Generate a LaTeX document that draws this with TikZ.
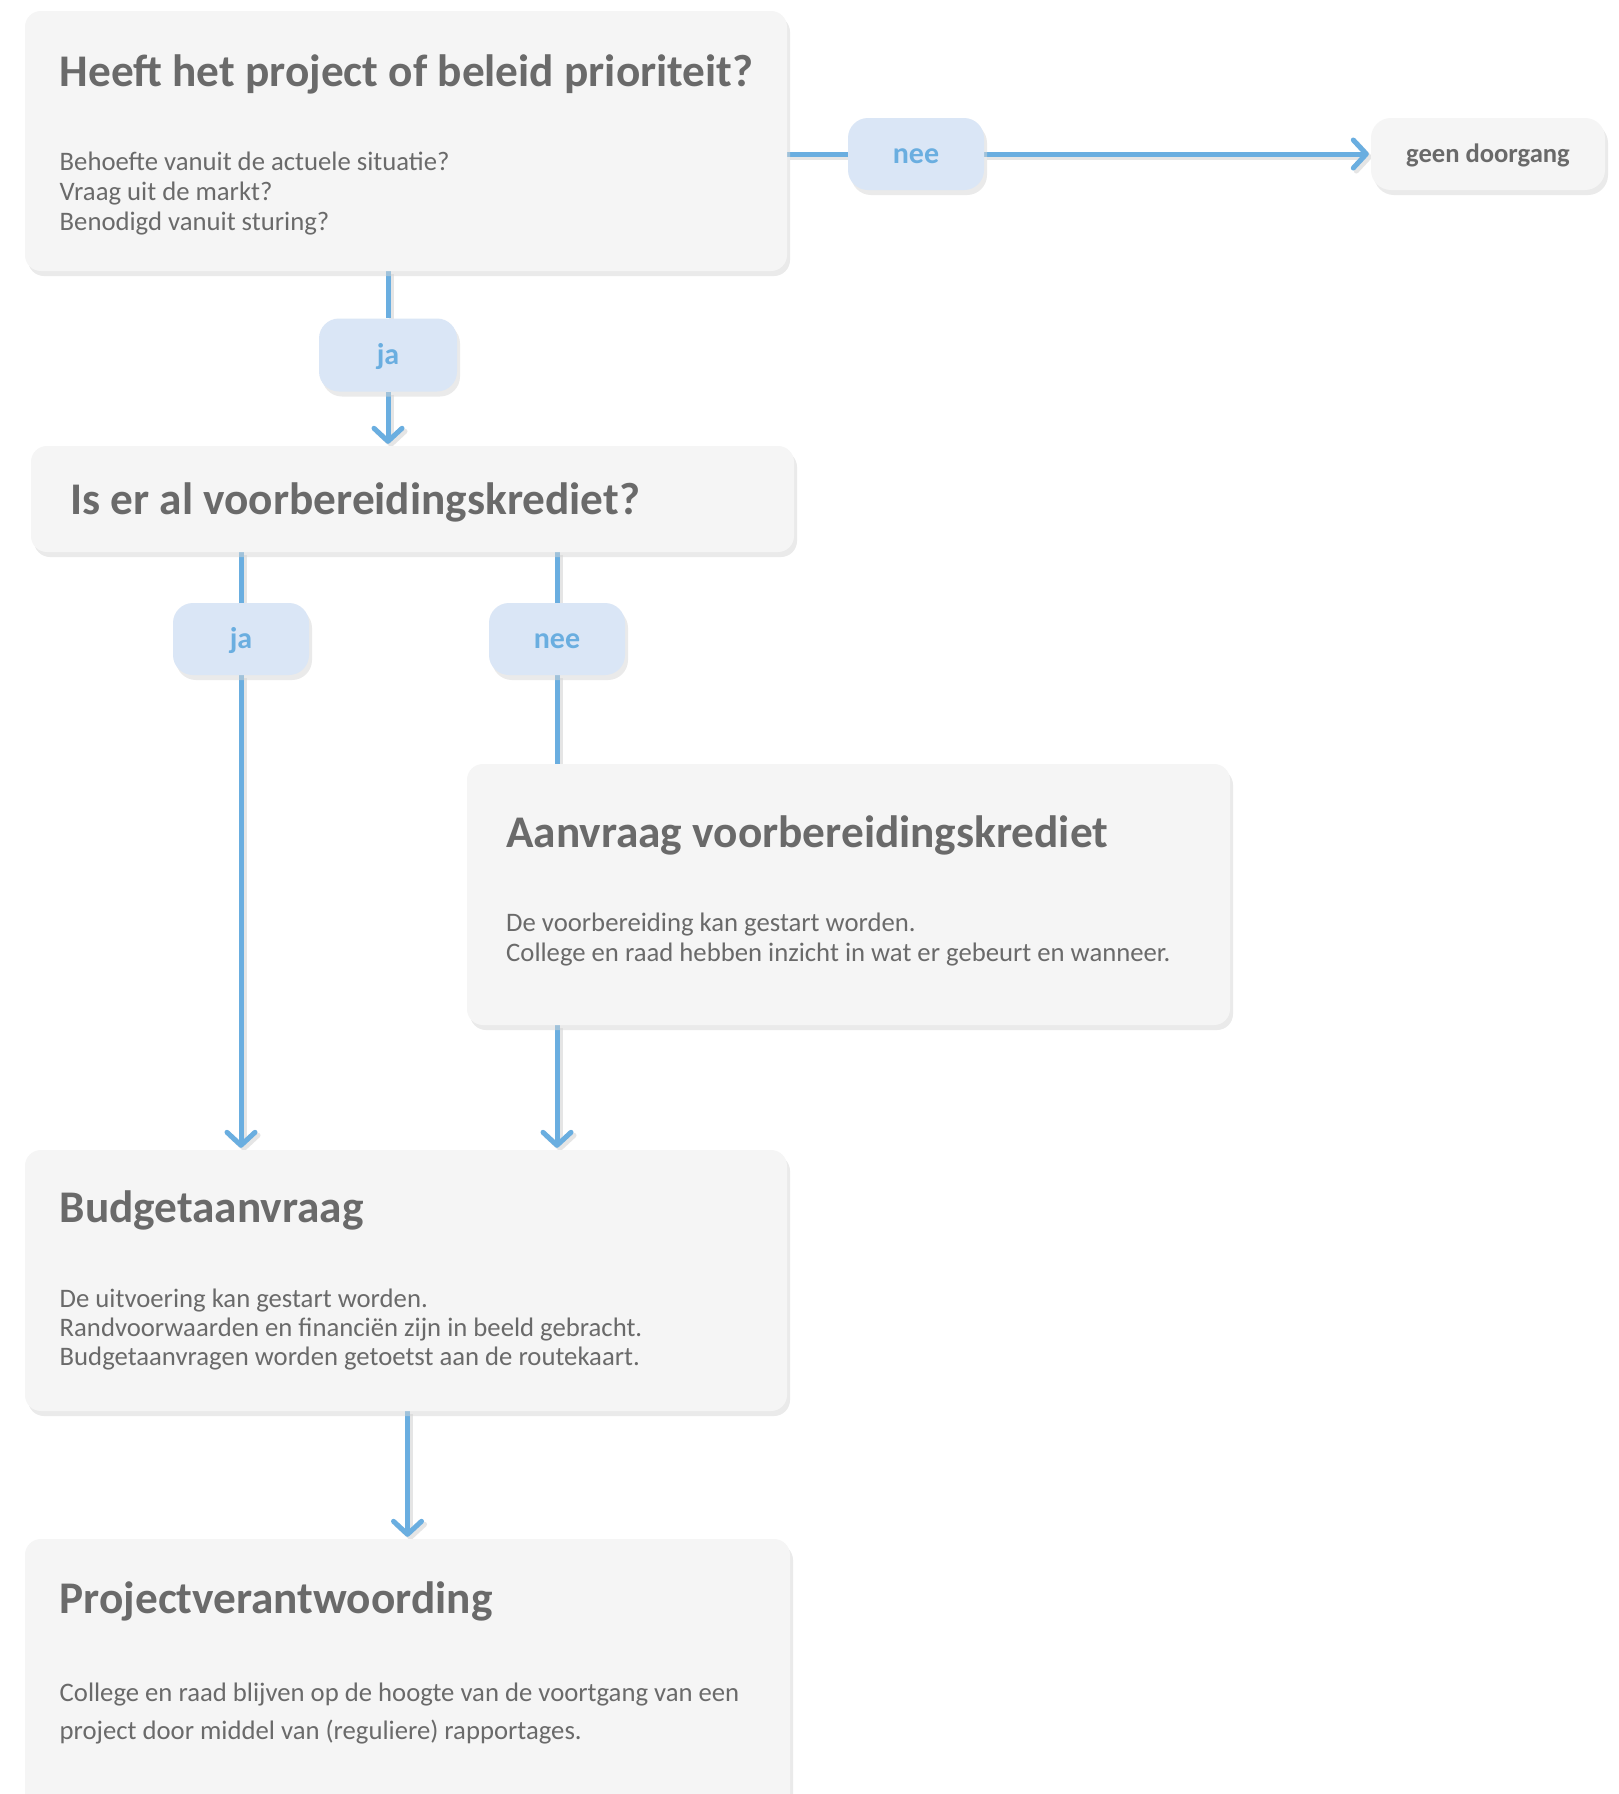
\documentclass[tikz,border=0pt]{standalone}
\usepackage{fontspec}
\setmainfont{Carlito}
\usetikzlibrary{arrows.meta,shadows,calc}
\definecolor{boxfill}{HTML}{F5F5F5}
\definecolor{txt}{HTML}{6A6A6A}
\definecolor{pillfill}{HTML}{DAE6F6}
\definecolor{blueline}{HTML}{6AAEE0}
\pgfdeclarelayer{bg}
\pgfsetlayers{bg,main}
\tikzset{
  box/.style={rectangle, rounded corners=16pt, fill=boxfill, inner sep=0pt,
    drop shadow={shadow xshift=3pt, shadow yshift=-5pt, fill=black!16}},
  pill/.style={rectangle, rounded corners=20pt, fill=pillfill, inner sep=0pt,
    minimum width=136pt, minimum height=72pt, text=blueline,
    text height=22pt, text depth=3pt,
    font=\bfseries\fontsize{30}{34}\selectfont,
    drop shadow={shadow xshift=3pt, shadow yshift=-5pt, fill=black!16}},
  endbox/.style={pill, fill=boxfill, text=txt, text height=19pt, text depth=2pt,
    font=\bfseries\fontsize{26.6}{30}\selectfont},
  ttl/.style={anchor=base west, inner sep=0pt, text=txt, font=\bfseries\fontsize{45.3}{52}\selectfont},
  bodytxt/.style={anchor=base west, inner sep=0pt, text=txt, align=left, font=\fontsize{26.7}{30}\selectfont},
  conn/.style={draw=blueline, line width=5pt,
    preaction={draw=black!10, line width=5pt, transform canvas={xshift=3pt, yshift=-3pt}}},
  arr/.style={conn, -{Straight Barb[length=13pt, width=28pt, round]}},
}
\begin{document}
\begin{tikzpicture}[x=1pt, y=-1pt]
\useasboundingbox (0,0) rectangle (1618,1794);

% boxes
\node[box, minimum width=762pt, minimum height=260pt] (b1) at (406,141) {};
\node[pill] (nee1) at (916,154) {nee};
\node[endbox, minimum width=234pt] (geen) at (1488,154) {geen doorgang};
\node[pill, minimum width=138pt, minimum height=73pt] (ja1) at (388,355) {ja};
\node[box, minimum width=763pt, minimum height=106pt] (b2) at (412.5,499) {};
\node[pill] (ja2) at (241,639) {ja};
\node[pill] (nee2) at (557,639) {nee};
\node[box, minimum width=763pt, minimum height=261pt] (b3) at (848.5,894.5) {};
\node[box, minimum width=762pt, minimum height=261pt] (b4) at (406,1280.5) {};
\node[box, minimum width=765pt, minimum height=301pt] (b5) at (407.5,1689.5) {};

% texts (body anchors sit on the last line's baseline)
\node[ttl] (t1) at (59.5,86) {Heeft het project of beleid prioriteit?};
\node[bodytxt] (s1) at (59.5,230) {Behoefte vanuit de actuele situatie?\\Vraag uit de markt?\\Benodigd vanuit sturing?};
\node[ttl] (t2) at (70,514) {Is er al voorbereidingskrediet?};
\node[ttl] (t3) at (506,847) {Aanvraag voorbereidingskrediet};
\node[bodytxt] (s3) at (506,961) {De voorbereiding kan gestart worden.\\College en raad hebben inzicht in wat er gebeurt en wanneer.};
\node[ttl] (t4) at (59.5,1222) {Budgetaanvraag};
\node[bodytxt, font=\fontsize{26.7}{29}\selectfont] (s4) at (59.5,1365) {De uitvoering kan gestart worden.\\Randvoorwaarden en financiën zijn in beeld gebracht.\\Budgetaanvragen worden getoetst aan de routekaart.};
\node[ttl] (t5) at (59.5,1613) {Projectverantwoording};
\node[bodytxt, font=\fontsize{26.7}{38}\selectfont] (s5) at (59.5,1739) {College en raad blijven op de hoogte van de voortgang van een\\project door middel van (reguliere) rapportages.};

% connectors
\begin{pgfonlayer}{bg}
\fill[white] (0,0) rectangle (1618,1794);
\draw[conn] (b1.east |- nee1) -- (nee1.west);
\draw[arr, shorten >=2pt] (nee1.east) -- (geen.west);
\draw[conn] (b1.south -| ja1) -- (ja1.north);
\draw[arr, shorten >=2pt] (ja1.south) -- (b2.north -| ja1);
\draw[conn] (b2.south -| ja2) -- (ja2.north);
\draw[arr, shorten >=2pt] (ja2.south) -- (b4.north -| ja2);
\draw[conn] (b2.south -| nee2) -- (nee2.north);
\draw[conn] (nee2.south) -- (b3.north -| nee2);
\draw[arr, shorten >=2pt] (b3.south -| nee2) -- (b4.north -| nee2);
\draw[arr, shorten >=2pt] (b4.south -| b5.north) -- (b5.north);
\end{pgfonlayer}
\end{tikzpicture}
\end{document}
